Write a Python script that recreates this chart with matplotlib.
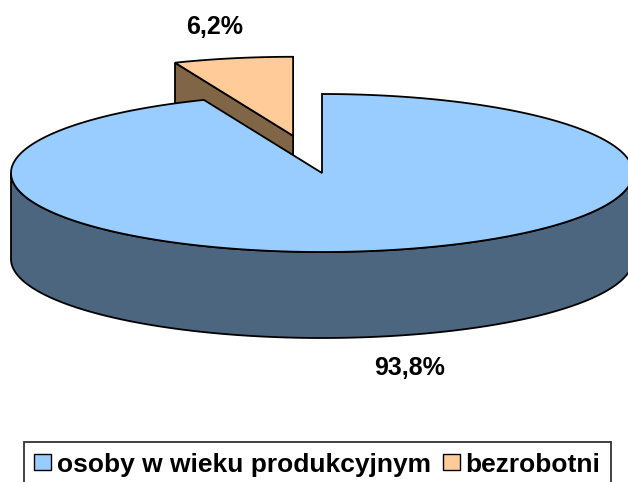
import numpy as np
import matplotlib.pyplot as plt
from matplotlib.patches import Polygon, Patch

plt.rcParams['font.family'] = ['Liberation Sans', 'DejaVu Sans']

# data
labels = ['osoby w wieku produkcyjnym', 'bezrobotni']
shares = [93.8, 6.2]
pct_text = ['93,8%', '6,2%']
top_colors = ['#99CCFF', '#FFCC99']
side_colors = ['#4C6680', '#806647']
explode = [0.0, 0.48]

# geometry of the 3d pie, in pixels
cx, cy = 322, 173
a, b = 311, 79
depth = 86

fig = plt.figure(figsize=(6.28, 4.82), dpi=100)
ax = fig.add_axes([0, 0, 1, 1])
ax.set_xlim(0, 628)
ax.set_ylim(482, 0)
ax.axis('off')


def pt(t, x0, y0, dz=0):
    r = np.radians(t)
    return x0 + a * np.cos(r), y0 - b * np.sin(r) + dz


# slices go clockwise from 12 o'clock
fracs = np.array(shares) / sum(shares)
starts = 90 - np.concatenate([[0], np.cumsum(fracs)[:-1]]) * 360
ends = starts - fracs * 360
lw = 1.3
label_kx = [1.45, 1.3]

# draw the exploded (back) slice first
for i in [1, 0]:
    t0, t1 = starts[i], ends[i]
    mid = np.radians((t0 + t1) / 2)
    x0 = cx + explode[i] * a * np.cos(mid)
    y0 = cy - explode[i] * b * np.sin(mid)
    ts = np.linspace(t1, t0, 400)

    # cut faces of the exploded slice
    if explode[i] > 0:
        for t in [t1, t0]:
            px, py = pt(t, x0, y0)
            face = [(x0, y0), (px, py), (px, py + depth), (x0, y0 + depth)]
            ax.add_patch(Polygon(face, closed=True, facecolor=side_colors[i],
                                 edgecolor='black', lw=lw, zorder=2))

    # outer side, front half only
    tt = np.array([t for t in np.linspace(t1, t0, 2000)
                   if np.sin(np.radians(t)) <= 0])
    if len(tt):
        upper = [pt(t, x0, y0) for t in tt]
        lower = [pt(t, x0, y0, depth) for t in tt[::-1]]
        ax.add_patch(Polygon(upper + lower, closed=True, facecolor=side_colors[i],
                             edgecolor='black', lw=lw, zorder=3))

    # top face
    top = [(x0, y0)] + [pt(t, x0, y0) for t in ts]
    ax.add_patch(Polygon(top, closed=True, facecolor=top_colors[i],
                         edgecolor='black', lw=lw, zorder=4))

    # percentage label
    lx = x0 + label_kx[i] * a * np.cos(mid)
    ly = y0 - 1.4 * b * np.sin(mid) + (depth if np.sin(mid) < 0 else 0)
    ax.text(lx, ly, pct_text[i], ha='center', va='center',
            fontsize=18, fontweight='bold', zorder=5)

handles = [Patch(facecolor=c, edgecolor='black', lw=1) for c in top_colors]
leg = fig.legend(handles, labels, loc='upper center',
                 bbox_to_anchor=(0.505, 1 - 442 / 482),
                 ncol=2, frameon=True, fancybox=False, edgecolor='black',
                 prop={'weight': 'bold', 'size': 19}, handlelength=0.65,
                 handleheight=0.58, handletextpad=0.2, columnspacing=0.45,
                 borderpad=0.4, borderaxespad=0.0)
leg.get_frame().set_linewidth(1.3)

fig.savefig('out.png', dpi=100)
